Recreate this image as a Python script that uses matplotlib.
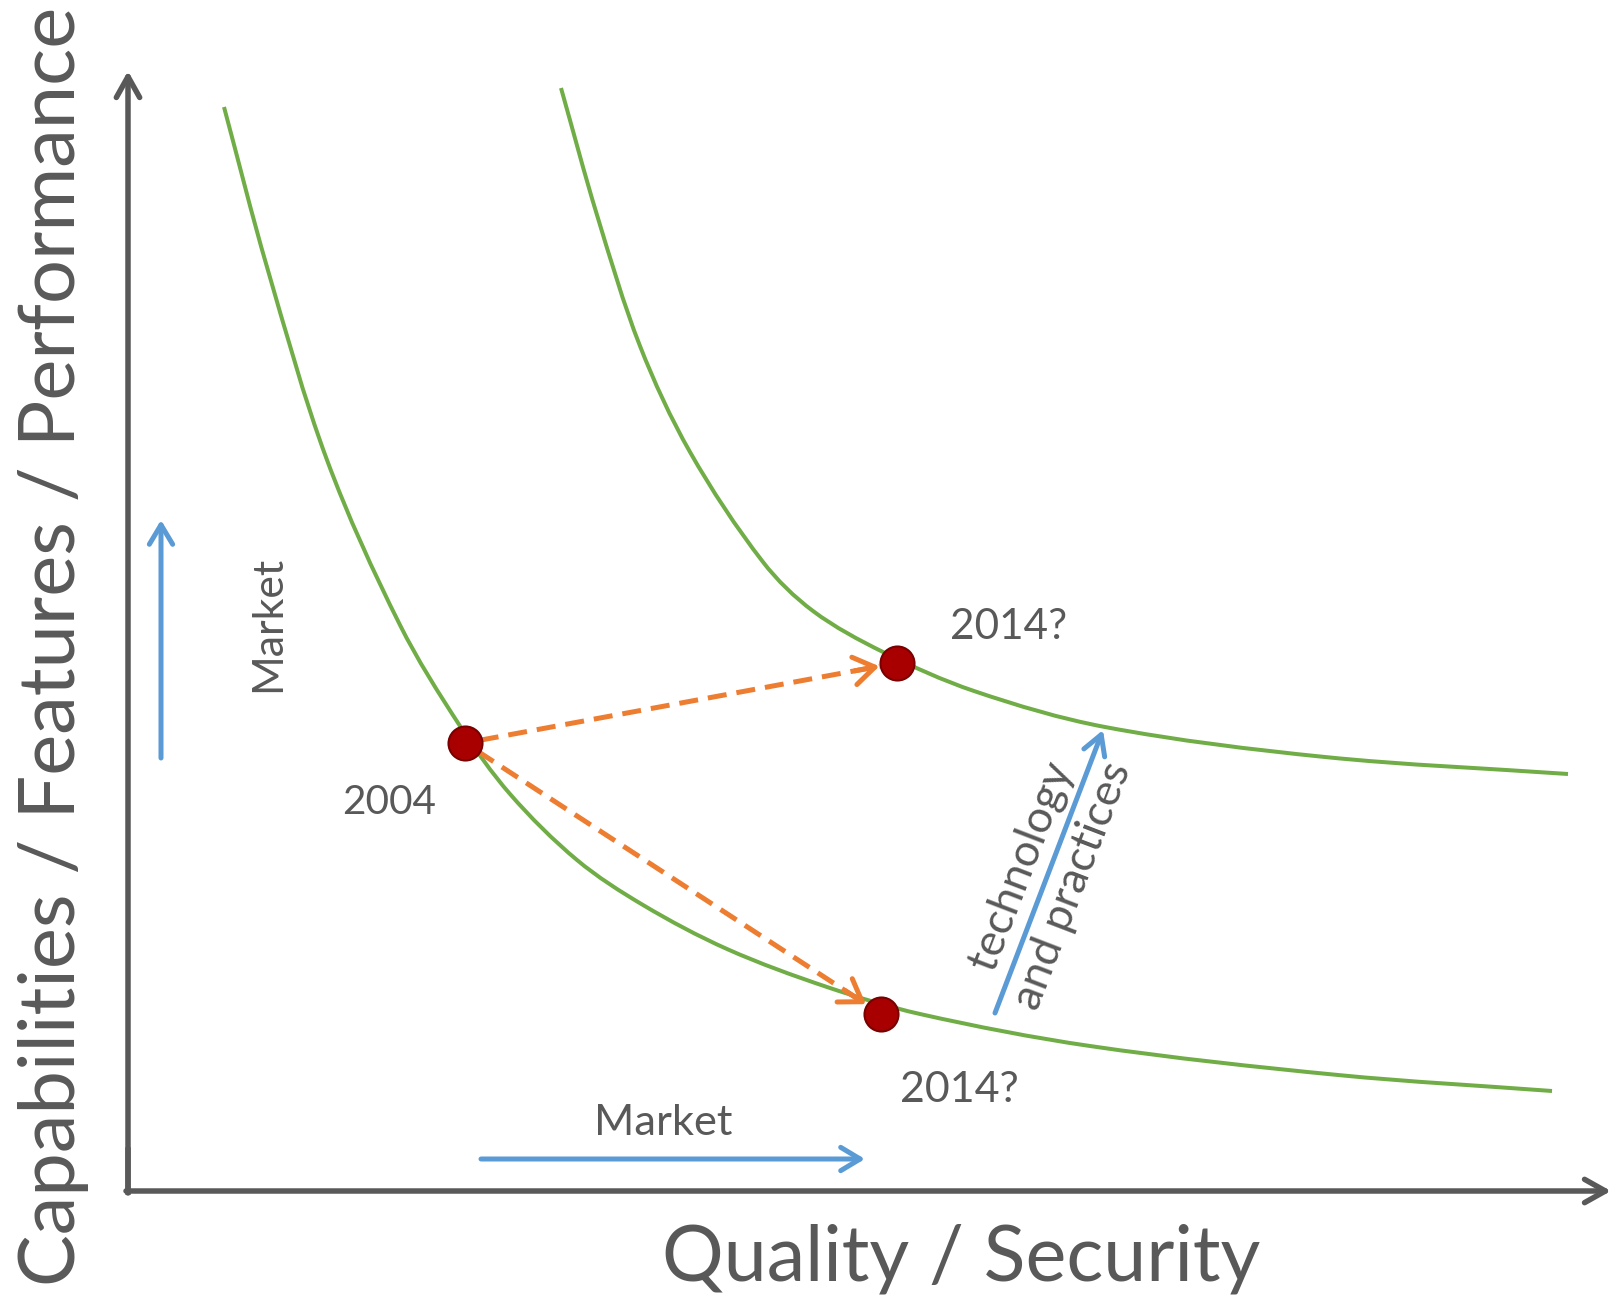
import matplotlib
matplotlib.use('Agg')
import matplotlib.pyplot as plt
from matplotlib.path import Path
from matplotlib.patches import PathPatch
import numpy as np

# ---------------- data (pixel-space coordinates) ----------------
lower_x = [224, 267, 327, 400, 460, 510, 577, 643, 727, 827, 920, 1090, 1338, 1552]
lower_y = [107, 267, 460, 625, 726, 794, 860, 905, 949, 987, 1014, 1046, 1075, 1091]

upper_x = [561, 597, 640, 690, 763, 813, 883, 974, 1105, 1325, 1568]
upper_y = [88, 215, 346, 452, 562, 611, 652, 691, 727, 757, 774]

point_x = [465, 897, 881]
point_y = [743, 663, 1014]
point_labels = ['2004', '2014?', '2014?']

x_label = 'Quality / Security'
y_label = 'Capabilities / Features / Performance'
market_label = 'Market'
tech_label = 'technology\nand practices'

# ---------------- style ----------------
W, H = 1614, 1299
PX = 0.72  # points per pixel at dpi 100
GREEN = '#70AD47'
ORANGE = '#ED7D31'
BLUE = '#5B9BD5'
GRAY = '#595959'
RED = '#A80000'
DRED = '#780000'
FONT = ['Lato', 'DejaVu Sans']

fig = plt.figure(figsize=(W / 100, H / 100), dpi=100)
ax = fig.add_axes([0, 0, 1, 1])
ax.set_xlim(0, W)
ax.set_ylim(H, 0)
ax.axis('off')
renderer = fig.canvas.get_renderer()


def arrow(x0, y0, x1, y1, color, lw, hl, hw, z=3):
    ax.annotate('', xy=(x1, y1), xytext=(x0, y0),
                arrowprops=dict(arrowstyle=f'->,head_length={hl},head_width={hw}',
                                color=color, lw=lw, shrinkA=0, shrinkB=0,
                                mutation_scale=20, capstyle='round', joinstyle='round'),
                zorder=z)


def smooth_curve(xs, ys, **kw):
    """Draw a smooth Bezier path through the given points."""
    P = np.column_stack([xs, ys]).astype(float)
    n = len(P)
    D = np.zeros_like(P)
    for i in range(n):
        a = P[max(i - 1, 0)]
        b = P[min(i + 1, n - 1)]
        v = b - a
        D[i] = v / np.hypot(*v)
    verts = [tuple(P[0])]
    codes = [Path.MOVETO]
    for i in range(n - 1):
        L = np.hypot(*(P[i + 1] - P[i]))
        c1 = P[i] + D[i] * L / 3
        c2 = P[i + 1] - D[i + 1] * L / 3
        verts += [tuple(c1), tuple(c2), tuple(P[i + 1])]
        codes += [Path.CURVE4] * 3
    ax.add_patch(PathPatch(Path(verts, codes), fill=False, **kw))


def fitted(x, y, s, width, rotation=0, **kw):
    t = ax.text(x, y, s, fontsize=20, family=FONT, color=GRAY, **kw)
    w = t.get_window_extent(renderer).width
    t.set_fontsize(20 * width / w)
    t.set_rotation(rotation)
    return t


# axes
AX_LW = 5.5 * PX
ax.plot([128, 128], [1192, 1150], color=GRAY, lw=AX_LW, solid_capstyle='projecting')
arrow(128, 1193, 128, 71, GRAY, AX_LW, 0.75, 0.42)
arrow(126, 1191, 1611, 1191, GRAY, AX_LW, 0.75, 0.42)

# curves
smooth_curve(lower_x, lower_y, edgecolor=GREEN, lw=4 * PX, zorder=2)
smooth_curve(upper_x, upper_y, edgecolor=GREEN, lw=4 * PX, zorder=2)

# orange dashed arrows from 2004 to the two 2014 points
R = 17
sx, sy = point_x[0], point_y[0]
for tx, ty in zip(point_x[1:], point_y[1:]):
    d = np.array([tx - sx, ty - sy], dtype=float)
    u = d / np.hypot(*d)
    a = np.array([sx, sy]) + u * (R - 2)
    b = np.array([tx, ty]) - u * (R + 1)
    ax.plot([a[0], b[0]], [a[1], b[1]], color=ORANGE, lw=5 * PX,
            linestyle=(0, (3.8, 2.0)), dash_capstyle='butt', zorder=3)
    c = b - u * 25
    arrow(c[0], c[1], b[0], b[1], ORANGE, 5 * PX, 0.75, 0.5, z=3)

# points
ax.plot(point_x, point_y, 'o', ms=34 * PX, mfc=RED, mec=DRED, mew=1.5, zorder=5)

# blue arrows
BL_LW = 5 * PX
arrow(481, 1159, 865, 1159, BLUE, BL_LW, 0.7, 0.42)
arrow(161, 758, 161, 520, BLUE, BL_LW, 0.7, 0.42)
arrow(995, 1013, 1103, 730, BLUE, BL_LW, 0.7, 0.4)

# point labels
fitted(342, 814, point_labels[0], 94, ha='left', va='baseline')
fitted(950, 639, point_labels[1], 117, ha='left', va='baseline')
fitted(900, 1102, point_labels[2], 119, ha='left', va='baseline')

# market labels
fitted(594, 1135, market_label, 139, ha='left', va='baseline')
fitted(280, 692, market_label, 137, rotation=90, ha='left', va='baseline',
       rotation_mode='anchor')

# technology text
tt = ax.text(0, 0, 'and practices', fontsize=20, family=FONT)
tw = tt.get_window_extent(renderer).width
tt.remove()
ax.text(1047, 876, tech_label, fontsize=20 * 262 / tw, family=FONT, color=GRAY,
        rotation=69, rotation_mode='anchor', ha='center', va='center',
        multialignment='center', linespacing=1.45)

# axis titles
fitted(961, 1280, x_label, 600, ha='center', va='baseline')
fitted(75, 646, y_label, 1282, rotation=90, ha='center', va='baseline',
       rotation_mode='anchor')

fig.savefig('out.png', dpi=100)
